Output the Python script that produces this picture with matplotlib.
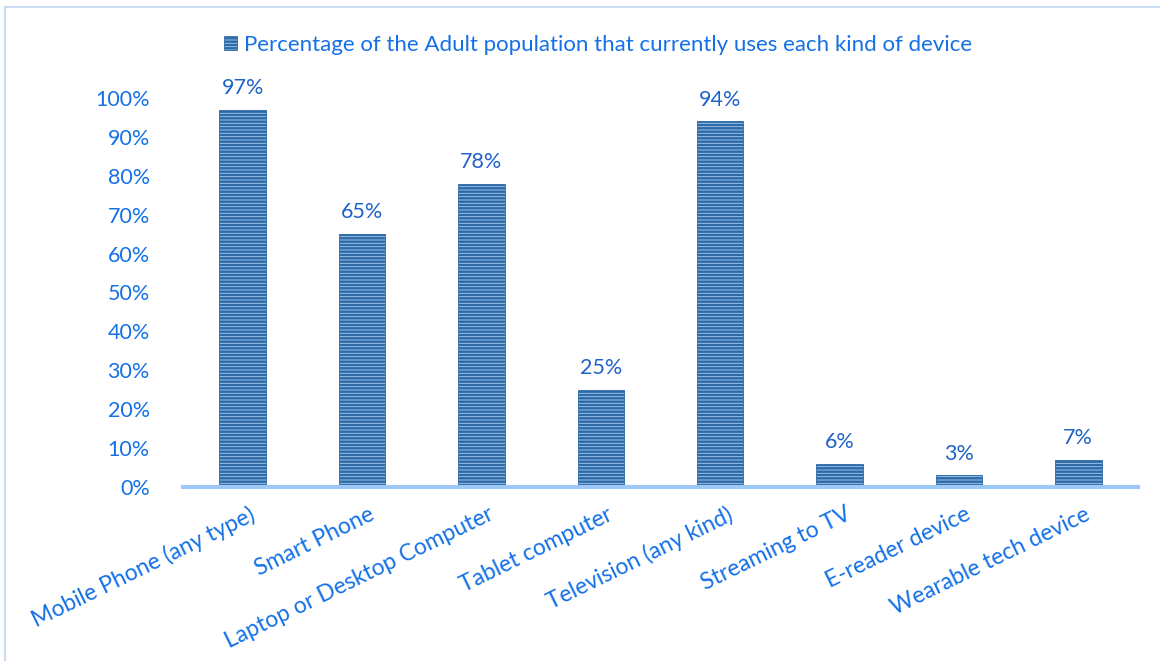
import matplotlib.pyplot as plt
from matplotlib.patches import Rectangle
from matplotlib.transforms import ScaledTranslation
import matplotlib as mpl

categories = [
    "Mobile Phone (any type)", "Smart Phone", "Laptop or Desktop Computer",
    "Tablet computer", "Television (any kind)", "Streaming to TV",
    "E-reader device", "Wearable tech device",
]
values = [97, 65, 78, 25, 94, 6, 3, 7]
series_name = "Percentage of the Adult population that currently uses each kind of device"
yticks = [0, 10, 20, 30, 40, 50, 60, 70, 80, 90, 100]

text_blue = "#1470e6"
mpl.rcParams["font.family"] = ["Lato", "DejaVu Sans"]
mpl.rcParams["hatch.color"] = "#1b5796"
mpl.rcParams["hatch.linewidth"] = 1.8

fig = plt.figure(figsize=(11.6, 6.61), dpi=100)
ax = fig.add_axes([183 / 1160, 1 - 487 / 661, 955 / 1160, 389 / 661])

x = range(len(categories))
bars = ax.bar(x, values, width=0.39, color="#a9cdf0", edgecolor="#2e6aa8",
              linewidth=0.6, hatch="-----", label=series_name)

for b, v in zip(bars, values):
    ax.text(b.get_x() + b.get_width() / 2, v + 3, f"{v}%", ha="center", va="bottom",
            fontsize=15.5, color="#1f62c8")

ax.set_xlim(-0.5, len(categories) - 0.5)
ax.set_ylim(0, 100)
ax.set_yticks(yticks)
ax.set_yticklabels([f"{t}%" for t in yticks], fontsize=15.5, color=text_blue)
ax.set_xticks(list(x))
ax.set_xticklabels(categories, rotation=26, ha="right", rotation_mode="anchor",
                   fontsize=16.5, color=text_blue)
ax.tick_params(axis="y", length=0, pad=24)
ax.tick_params(axis="x", length=0, pad=12)
shift = ScaledTranslation(6 / 100, 0, fig.dpi_scale_trans)
for lab in ax.get_xticklabels():
    lab.set_transform(lab.get_transform() + shift)

for s in ["top", "right", "left"]:
    ax.spines[s].set_visible(False)
ax.spines["bottom"].set_color("#9ec8f5")
ax.spines["bottom"].set_linewidth(3)

leg = fig.legend(loc="center", bbox_to_anchor=(598 / 1160, 1 - 45 / 661), frameon=False,
                 fontsize=16, handlelength=0.6, handleheight=0.6, handletextpad=0.3)
for t in leg.get_texts():
    t.set_color(text_blue)

fig.patches.append(Rectangle((5 / 1160, -0.1), 1.2, 1 - 7 / 661 + 0.1,
                             transform=fig.transFigure, fill=False,
                             edgecolor="#c9dcf2", linewidth=1.5))

fig.savefig("out.png", dpi=100, facecolor="white")
